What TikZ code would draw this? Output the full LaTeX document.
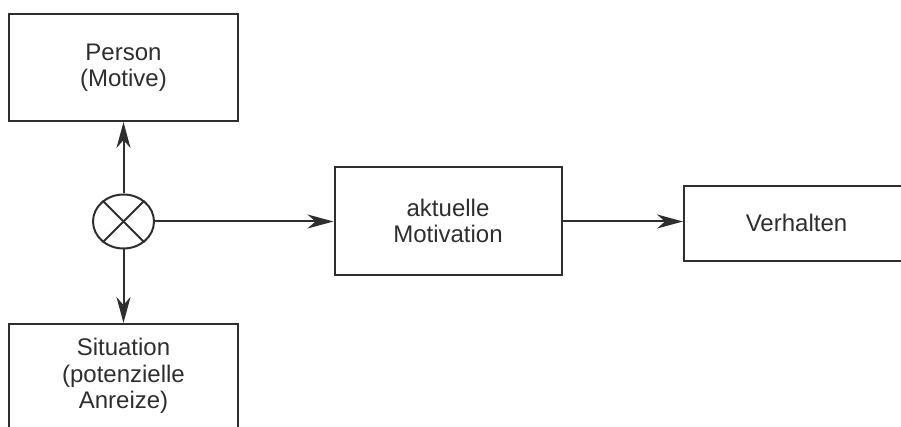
\documentclass[tikz,border=0pt]{standalone}
\usepackage{fontspec}
\setmainfont{Liberation Sans}
\usetikzlibrary{shapes.geometric,arrows.meta}
\definecolor{ink}{HTML}{2E2E2E}
\begin{document}
\begin{tikzpicture}[x=1pt,y=-1pt,
  every node/.style={font=\fontsize{24}{26.5}\selectfont, text=ink},
  block/.style={draw=ink, line width=2pt, rectangle, inner sep=0pt, align=center},
  flow/.style={draw=ink, line width=2pt, -{Stealth[length=26pt,width=14pt,inset=8pt]}},
  mixer/.style={draw=ink, line width=2pt, ellipse, inner sep=0pt, minimum width=61pt, minimum height=54pt}
]
\useasboundingbox (0,0) rectangle (901,427);
\begin{scope}
\clip (0,0) rectangle (901,427);

% boxes
\node[block, minimum width=229pt, minimum height=107pt] (person) at (123.5,67.5) {Person\\(Motive)};
\node[block, minimum width=229pt, minimum height=104pt] (sit) at (123.5,376) {Situation\\(potenzielle\\Anreize)};
\node[block, minimum width=227pt, minimum height=108pt] (akt) at (448,221) {aktuelle\\Motivation};
\node[block, minimum width=240pt, minimum height=75pt, anchor=west] (verh) at (683,223.5) {};
\node (verhtext) at (796.5,222.5) {Verhalten};

% combination point
\node[mixer] (mix) at (123.5,221.5) {};
\draw[ink, line width=2pt] (mix.45) -- (mix.225);
\draw[ink, line width=2pt] (mix.135) -- (mix.315);

% connectors
\draw[flow] (mix) -- (person);
\draw[flow] (mix) -- (sit);
\draw[flow] (mix) -- (akt.west |- mix);
\draw[flow] (akt.east |- mix) -- (verh.west |- mix);
\end{scope}
\end{tikzpicture}
\end{document}
